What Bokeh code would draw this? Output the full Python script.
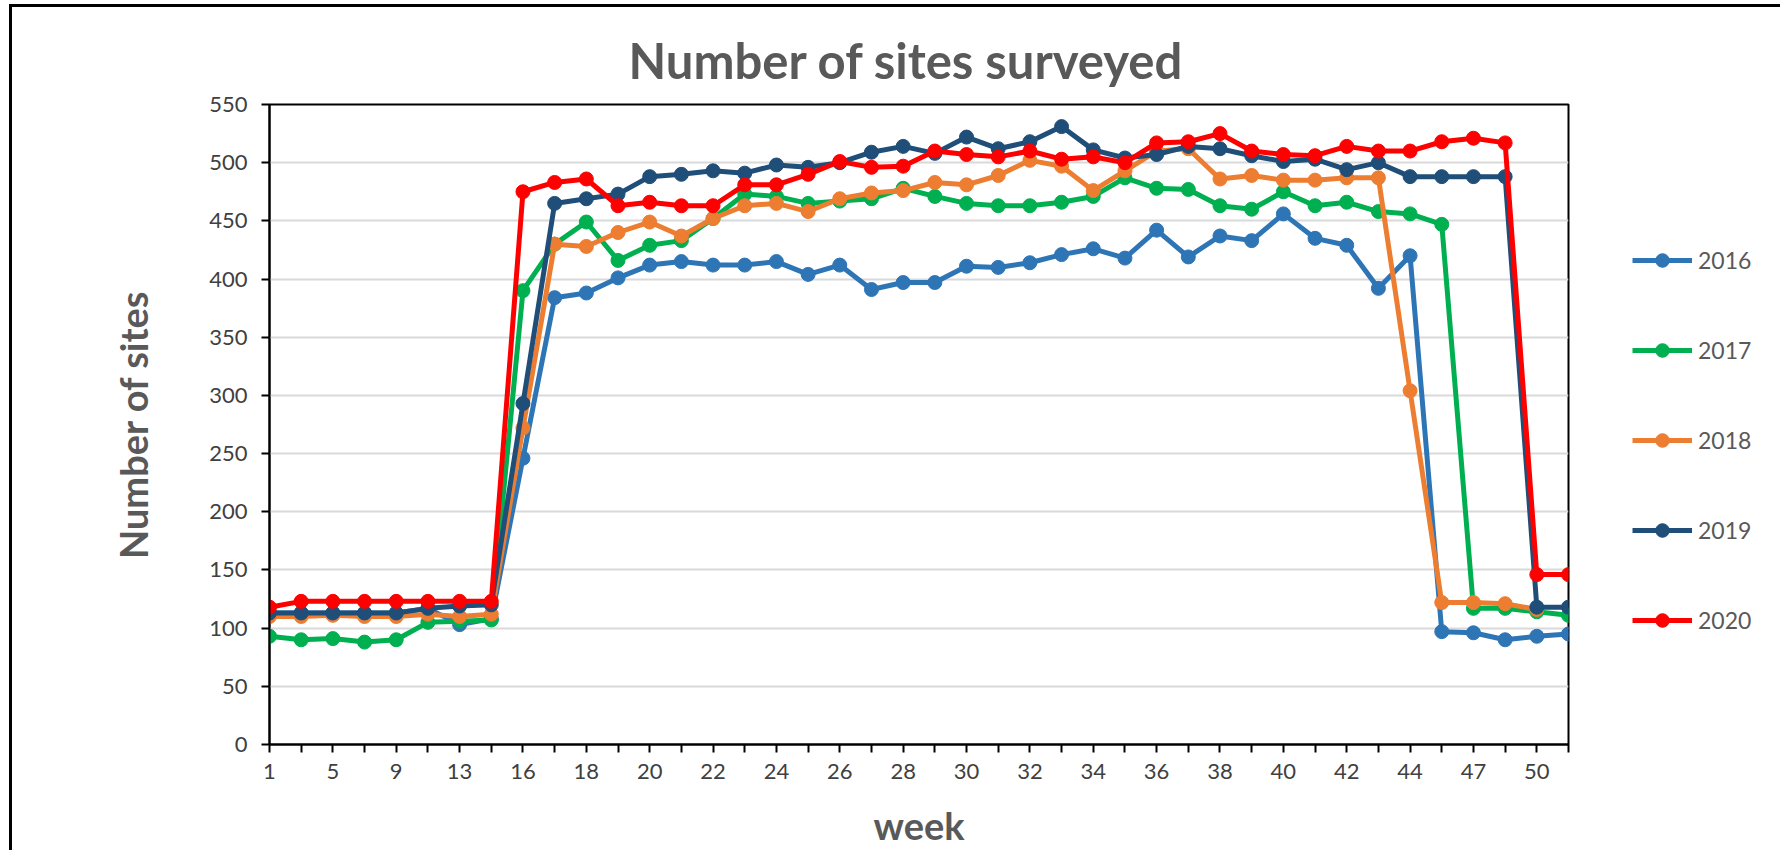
from bokeh.plotting import figure
from bokeh.models import Range1d, FixedTicker, Legend, LegendItem
from bokeh.embed import file_html
from bokeh.resources import INLINE

weeks = [1, 3, 5, 7, 9, 11, 13, 15, 16, 17, 18, 19, 20, 21, 22, 23, 24, 25, 26, 27,
         28, 29, 30, 31, 32, 33, 34, 35, 36, 37, 38, 39, 40, 41, 42, 43, 44, 45,
         47, 48, 50, 51]

s2016 = [113, 113, 113, 113, 113, 117, 103, 108,
         246, 384, 388, 401, 412, 415, 412, 412, 415, 404,
         412, 391, 397, 397, 411, 410, 414, 421, 426, 418,
         442, 419, 437, 433, 456, 435, 429, 392, 420, 97,
         96, 90, 93, 95]
s2017 = [93, 90, 91, 88, 90, 105, 106, 107,
         390, 430, 449, 416, 429, 433, 452, 473, 471, 465,
         467, 469, 478, 471, 465, 463, 463, 466, 471, 487,
         478, 477, 463, 460, 475, 463, 466, 458, 456, 447,
         117, 117, 114, 111]
s2018 = [110, 110, 111, 110, 110, 112, 110, 112,
         272, 430, 428, 440, 449, 437, 452, 463, 465, 458,
         469, 474, 476, 483, 481, 489, 502, 497, 476, 493,
         510, 512, 486, 489, 485, 485, 487, 487, 304, 122,
         122, 121, 116, float("nan")]
s2019 = [113, 113, 113, 113, 113, 117, 119, 120,
         293, 465, 469, 473, 488, 490, 493, 491, 498, 496,
         500, 509, 514, 508, 522, 512, 518, 531, 511, 504,
         507, 514, 512, 506, 501, 503, 494, 500, 488, 488,
         488, 488, 118, 118]
s2020 = [118, 123, 123, 123, 123, 123, 123, 123,
         475, 483, 486, 463, 466, 463, 463, 481, 481, 490,
         501, 496, 497, 510, 507, 505, 510, 503, 505, 500,
         517, 518, 525, 510, 507, 506, 514, 510, 510, 518,
         521, 517, 146, 146]

series_names = ["2016", "2017", "2018", "2019", "2020"]
series_values = [s2016, s2017, s2018, s2019, s2020]
colors = ["#2e75b6", "#00b050", "#ed7d31", "#1f4e79", "#ff0000"]

FONT = "Lato"
x = list(range(len(weeks)))

p = figure(frame_width=1299, frame_height=640, output_backend="svg", toolbar_location=None,
           x_range=Range1d(0, len(weeks) - 1), y_range=Range1d(0, 550),
           min_border_left=257, min_border_right=200, min_border_top=97,
           min_border_bottom=104)
p.styles = {"border-left": "3px solid black", "border-top": "3px solid black",
            "margin-left": "9px", "margin-top": "4px"}

p.title.text = "Number of sites surveyed"
p.title.text_font = FONT
p.title.text_font_size = "49px"
p.title.text_font_style = "bold"
p.title.text_color = "#595959"
p.title.align = "left"
p.title.offset = 359
p.title.standoff = 32

p.outline_line_color = "black"
p.outline_line_width = 2
p.outline_line_alpha = 1

p.xgrid.grid_line_color = None
p.ygrid.grid_line_color = "#d9d9d9"
p.ygrid.grid_line_width = 2

p.xaxis.ticker = FixedTicker(ticks=x)
p.xaxis.major_label_overrides = {i: (str(w) if i % 2 == 0 else "") for i, w in zip(x, weeks)}
p.yaxis.ticker = FixedTicker(ticks=[0, 50, 100, 150, 200, 250, 300, 350, 400, 450, 500, 550])

for ax in (p.xaxis[0], p.yaxis[0]):
    ax.axis_line_color = "black"
    ax.axis_line_width = 2
    ax.major_tick_line_color = "black"
    ax.major_tick_line_width = 2
    ax.major_tick_in = 0
    ax.major_tick_out = 8
    ax.minor_tick_line_color = None
    ax.major_label_text_font = FONT
    ax.major_label_text_font_size = "22px"
    ax.major_label_text_color = "#404040"
    ax.axis_label_text_font = FONT
    ax.axis_label_text_font_size = "38px"
    ax.axis_label_text_font_style = "bold"
    ax.axis_label_text_color = "#595959"

p.xaxis.axis_label = "week"
p.xaxis.major_label_standoff = 11
p.xaxis.axis_label_standoff = 20
p.yaxis.axis_label = "Number of sites"
p.yaxis.major_label_standoff = 14
p.yaxis.axis_label_standoff = 50

items = []
for name, vals, c in zip(series_names, series_values, colors):
    ln = p.line(x, vals, line_color=c, line_width=5)
    sc = p.scatter(x, vals, size=14, fill_color=c, line_color=c)
    items.append(LegendItem(label=name, renderers=[ln, sc]))

legend = Legend(items=items, location=(64, 107), orientation="vertical",
                padding=0, margin=0, spacing=56, glyph_width=60, glyph_height=34,
                label_height=34, label_standoff=6,
                label_text_font=FONT, label_text_font_size="23px",
                label_text_color="#595959", border_line_color=None,
                background_fill_alpha=0)
p.add_layout(legend, "right")

open("out.html", "w").write(file_html(p, INLINE))
